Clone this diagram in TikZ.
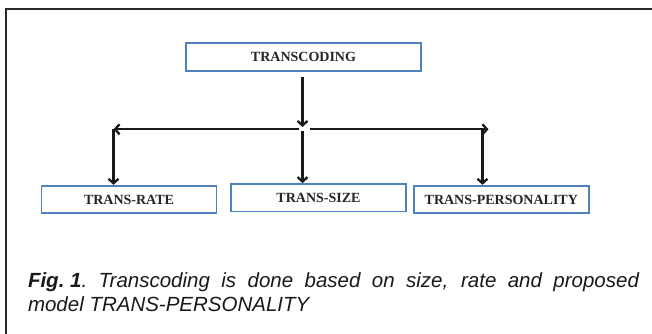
\documentclass[tikz,border=0pt]{standalone}
\usepackage{fontspec}
\setmainfont{Liberation Sans}
\newfontfamily\tcboxfont{Liberation Serif}
\usepackage{xcolor}
\usepackage{tikz}
\usetikzlibrary{arrows.meta,positioning,calc}
\definecolor{tc@blue}{RGB}{79,129,189}
\definecolor{tc@frame}{RGB}{40,40,40}
\definecolor{tc@text}{RGB}{38,38,38}
\tikzset{
  tc/.style={
    x=1pt, y=-1pt,
    >={Straight Barb[length=4.5pt,width=10pt,line width=2.3pt]},
    line width=2pt
  },
  tbox/.style={                    % one transcoding box
    draw=tc@blue, line width=1.8pt,
    fill=white,
    inner sep=0pt,
    text=tc@text,
    font=\tcboxfont\bfseries\fontsize{14}{16}\selectfont,
    minimum width=175pt,
    minimum height=27.5pt
  },
  tarrow/.style={->, line width=2.3pt, draw=black!90},
  tframe/.style={draw=tc@frame, line width=2pt},
  tcaption/.style={
    font=\itshape\fontsize{20.5}{24}\selectfont,
    text=black!90,
    text width=611pt, align=justify,
    inner sep=0pt
  }
}
\begin{document}
\begin{tikzpicture}[tc]
\useasboundingbox (0,0) rectangle (652,334);
\clip (0,0) rectangle (652,334);

% Outer frame, cut off at the right and bottom
\draw[tframe] (6.3,9.3) rectangle (700,400);

% Top box
\node[tbox, minimum width=235pt, minimum height=28.5pt] (code) at (303.5,57) {TRANSCODING};

% Bottom row
\node[tbox] (rate) at (129,199.5) {TRANS-RATE};
\node[tbox] (size) at (318.5,197.8) {TRANS-SIZE};
\node[tbox] (pers) at (501.3,199.5) {TRANS-PERSONALITY};

% Branching points on the cross line
\coordinate (hub) at (302.5,127);
\coordinate (lgap) at (298.5,129.3);
\coordinate (rgap) at (309.5,129.3);
\coordinate (lend) at (113.5,129.3);
\coordinate (rend) at (488.5,129.3);
\coordinate (mdrop) at (302.5,131);
\coordinate (rdrop) at (482.5,129.3);

% Transcoding splits three ways
\draw[tarrow] ($(code.south)+(-1,5)$) -- (hub);
\draw[tarrow] (lgap) -- (lend);
\draw[tarrow] (rgap) -- (rend);

% Drops to the boxes
\draw[tarrow] (lend) -- (lend |- rate.north);
\draw[tarrow] (mdrop) -- (mdrop |- size.north);
\draw[tarrow] (rdrop) -- (rdrop |- pers.north);

% Caption
\node[tcaption, anchor=north west] (cap) at (27,271.5)
  {\hyphenpenalty=10000\mbox{\textbf{Fig.\hspace{0.28em}1}.}\ Transcoding is done based on size, rate and proposed\linebreak
   model TRANS-PERSONALITY};

\end{tikzpicture}
\end{document}
